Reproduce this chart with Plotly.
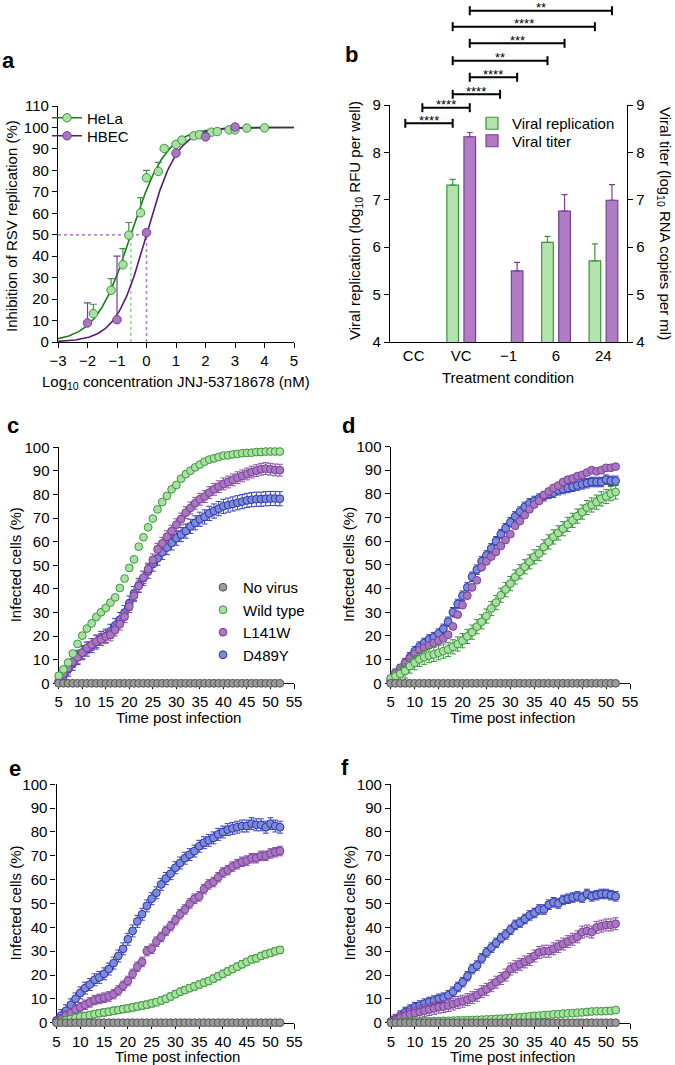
import numpy as np
import plotly.graph_objects as go

W, H = 675, 1065
FONT = "Liberation Sans, Arial, Helvetica, sans-serif"


def px(x):
    return x / W


def py(y):
    return 1 - y / H


# ---------------- Panel a: dose response ----------------
HELA_LOGC = [-1.8, -1.2, -0.8, -0.6, -0.2, 0.0, 0.4, 0.6, 1.0, 1.2, 1.6, 1.8, 2.2, 2.4, 2.8, 3.0, 3.4, 4.0]
HELA_INH = [13.2, 24.1, 36.0, 49.8, 60.2, 76.5, 79.5, 90.2, 92.1, 94.1, 96.1, 96.6, 97.8, 98.1, 98.9, 98.9, 99.7, 99.8]
HELA_ERR = [4.4, 5.4, 7.5, 5.9, 7.1, 3.5, 4.2, 1.4, 1.2, 0.5, 0.5, 0.5, 0.3, 0.3, 0.2, 0.2, 0.2, 0.1]
HBEC_LOGC = [-2.0, -1.0, 0.0, 1.0, 2.0, 3.0]
HBEC_INH = [8.9, 10.4, 51.0, 88.0, 95.6, 100.2]
HBEC_ERR = [9.3, 29.6, 0.0, 0.8, 1.5, 0.0]
HELA_IC50, HELA_HILL = -0.53, 0.73
HBEC_IC50, HBEC_HILL = 0.0, 0.84

# ---------------- Panel b: bars ----------------
B_CATS = ["CC", "VC", "\u22121", "6", "24"]
REPL = [None, 7.31, None, 6.10, 5.71]
REPL_ERR = [0, 0.12, 0, 0.13, 0.36]
TITER = [None, 8.33, 5.50, 6.76, 6.99]
TITER_ERR = [0, 0.09, 0.18, 0.35, 0.33]
# (series, from category, to category, label) top to bottom
SIG = [("titer", 1, 4, "**"), ("repl", 1, 4, "****"), ("titer", 1, 3, "***"),
       ("repl", 1, 3, "**"), ("titer", 1, 2, "****"), ("repl", 1, 2, "****"),
       ("titer", 0, 1, "****"), ("repl", 0, 1, "****")]

# ---------------- Panels c-f: kinetics ----------------
TIME = [5, 6, 7, 8, 9, 10, 11, 12, 13, 14, 15, 16, 17, 18, 19, 20, 21, 22, 23, 24, 25, 26, 27, 28,
        29, 30, 31, 32, 33, 34, 35, 36, 37, 38, 39, 40, 41, 42, 43, 44, 45, 46, 47, 48, 49, 50, 51, 52]
NO_VIRUS = [0, 0, 0, 0, 0, 0, 0, 0, 0, 0, 0, 0, 0, 0, 0, 0, 0, 0, 0, 0, 0, 0, 0, 0,
            0, 0, 0, 0, 0, 0, 0, 0, 0, 0, 0, 0, 0, 0, 0, 0, 0, 0, 0, 0, 0, 0, 0, 0]

C_WT = [3.2, 5.9, 8.8, 12.6, 16.7, 20.2, 23.2, 25.4, 28.1, 30.1, 31.9, 34.2, 36.4, 40.4, 44.4, 48.9,
        52.5, 57.9, 61.9, 66.1, 69.8, 73.7, 76.8, 79.4, 82.2, 84.0, 86.7, 88.6, 90.1, 91.5, 92.7, 93.9,
        94.8, 95.3, 95.9, 96.5, 96.6, 97.0, 97.2, 97.5, 97.6, 97.7, 98.0, 98.0, 98.2, 98.2, 98.2, 98.2]
C_L141W = [1.0, 4.0, 6.4, 9.2, 11.0, 13.0, 15.0, 16.4, 17.7, 18.6, 19.8, 20.5, 22.6, 25.1, 28.2, 32.5,
           37.1, 41.2, 44.8, 48.4, 52.3, 56.8, 59.3, 62.1, 64.5, 67.2, 69.6, 72.3, 74.3, 76.3, 78.0, 79.1,
           80.8, 82.2, 83.3, 84.5, 85.3, 86.2, 87.1, 87.9, 88.7, 89.5, 90.1, 90.7, 91.0, 90.7, 90.4, 90.3]
C_D489Y = [0.5, 3.0, 6.0, 8.5, 11.0, 13.0, 14.5, 16.0, 17.5, 19.0, 20.0, 22.0, 24.5, 27.0, 30.0, 34.0,
           38.0, 41.5, 44.5, 47.5, 50.5, 53.0, 55.5, 57.5, 59.5, 61.5, 63.0, 64.5, 66.5, 68.0, 69.5, 70.5,
           72.0, 73.0, 74.0, 75.0, 75.5, 76.0, 76.5, 77.0, 77.5, 77.8, 78.0, 78.0, 78.2, 78.3, 78.3, 78.2]

D_WT = [2.0, 3.0, 4.0, 5.2, 7.3, 8.7, 10.1, 11.0, 11.7, 12.2, 12.9, 13.6, 14.3, 15.4, 16.6, 18.0,
        19.8, 21.6, 23.9, 26.0, 28.4, 31.6, 34.1, 37.2, 39.6, 42.1, 44.9, 47.1, 49.2, 51.3, 53.4, 54.8,
        57.6, 59.7, 61.8, 63.5, 65.3, 67.1, 68.8, 70.6, 72.3, 74.2, 75.3, 76.5, 77.9, 78.9, 80.1, 80.8]
D_L141W = [2.0, 4.5, 6.5, 8.5, 10.5, 12.5, 14.0, 15.0, 16.0, 17.0, 18.0, 19.0, 20.5, 24.0, 29.0, 33.0,
           37.0, 40.5, 43.5, 49.0, 51.5, 53.5, 55.5, 58.0, 60.5, 63.0, 66.5, 68.5, 71.0, 73.5, 75.5, 77.0,
           79.5, 81.0, 82.5, 83.5, 85.0, 86.0, 86.5, 87.5, 88.0, 89.0, 90.0, 89.5, 90.0, 91.0, 91.0, 91.5]
D_D489Y = [1.0, 3.5, 6.0, 8.5, 11.0, 13.5, 15.5, 17.0, 18.5, 19.5, 21.0, 23.0, 26.0, 30.0, 33.5, 37.0,
           40.5, 45.0, 48.0, 51.5, 54.0, 57.0, 60.0, 63.0, 65.5, 68.0, 70.5, 72.5, 74.5, 76.0, 77.0, 78.0,
           79.0, 80.0, 80.5, 81.5, 82.0, 82.5, 83.0, 83.5, 84.0, 84.5, 85.0, 85.0, 85.0, 86.0, 85.5, 85.5]

E_WT = [0.0, 0.5, 1.0, 1.5, 2.0, 2.5, 2.8, 3.2, 3.6, 4.0, 4.3, 4.6, 5.0, 5.3, 5.7, 6.0,
        6.4, 6.8, 7.2, 7.6, 8.1, 8.6, 9.3, 10.0, 11.0, 12.0, 13.0, 13.7, 14.5, 15.2, 16.0, 16.8,
        17.5, 18.5, 19.5, 20.5, 21.5, 22.5, 23.5, 24.5, 25.5, 26.5, 27.0, 28.0, 28.7, 29.3, 30.0, 30.5]
E_L141W = [0.5, 1.5, 3.0, 4.0, 5.5, 6.5, 7.5, 8.5, 9.5, 10.0, 10.5, 11.0, 12.0, 13.5, 15.5, 17.5,
           20.5, 23.5, 25.5, 30.0, 31.0, 34.0, 36.0, 38.5, 40.5, 43.0, 45.5, 47.5, 50.0, 52.0, 53.0, 56.0,
           58.0, 59.0, 61.0, 63.0, 64.0, 65.5, 66.5, 67.5, 68.0, 69.0, 69.0, 70.0, 70.0, 71.0, 71.5, 72.0]
E_D489Y = [1.0, 3.0, 5.0, 7.5, 10.0, 12.5, 14.5, 16.0, 18.0, 19.0, 20.5, 22.5, 25.0, 28.0, 31.0, 35.0,
           38.5, 42.5, 45.5, 49.0, 52.0, 54.5, 58.0, 60.5, 62.5, 65.0, 67.0, 69.0, 70.5, 72.0, 74.0, 75.5,
           76.5, 77.5, 79.0, 80.0, 81.0, 81.5, 82.0, 82.5, 82.5, 83.5, 83.0, 83.0, 82.0, 83.5, 82.5, 82.0]

F_WT = [0.0, 0.1, 0.2, 0.3, 0.4, 0.5, 0.5, 0.6, 0.6, 0.7, 0.7, 0.8, 0.8, 0.9, 1.0, 1.0,
        1.1, 1.1, 1.2, 1.3, 1.4, 1.5, 1.6, 1.7, 1.8, 2.0, 2.1, 2.3, 2.5, 2.7, 2.9, 3.0,
        3.2, 3.3, 3.5, 3.6, 3.8, 3.9, 4.0, 4.2, 4.3, 4.5, 4.7, 4.8, 4.8, 4.9, 5.0, 5.3]
F_L141W = [0.3, 1.0, 2.0, 2.8, 3.5, 4.0, 4.5, 5.0, 5.5, 6.0, 6.5, 6.8, 7.2, 7.8, 8.5, 9.0,
           9.7, 10.5, 11.5, 13.0, 14.0, 15.5, 17.0, 18.5, 20.0, 22.5, 23.5, 24.5, 25.5, 26.5, 28.0, 29.5,
           30.0, 30.0, 31.0, 32.0, 33.0, 34.0, 35.0, 36.0, 38.0, 38.5, 38.0, 40.0, 40.5, 41.0, 41.0, 41.5]
F_D489Y = [0.5, 1.5, 3.0, 4.5, 5.5, 6.5, 7.2, 8.0, 8.7, 9.3, 10.0, 10.5, 11.5, 13.0, 15.0, 17.0,
           19.5, 22.5, 24.0, 27.0, 29.5, 31.5, 33.5, 35.5, 37.0, 39.0, 41.0, 42.0, 43.5, 45.0, 46.0, 47.5,
           47.5, 49.5, 50.5, 50.0, 51.5, 52.0, 52.5, 53.0, 52.5, 54.0, 53.0, 53.5, 54.0, 54.0, 53.5, 53.0]

# constant error bar sizes (wt, L141W, D489Y)
ERR_C = [0.5, 2.5, 3.0]
ERR_D = [3.0, 1.0, 2.0]
ERR_E = [1.5, 2.0, 2.5]
ERR_F = [0.5, 2.5, 2.0]

# ---------------- colours ----------------
GREEN_FILL, GREEN_LINE, GREEN_CURVE, GREEN_DOT = "#a8e0a2", "#3c963c", "#1f7a1f", "#90d890"
PURPLE_FILL, PURPLE_LINE, PURPLE_CURVE, PURPLE_DOT = "#a877c2", "#7a3f95", "#5a1a70", "#b77fd0"
BLUE_FILL, BLUE_LINE = "#7c8ad8", "#2b33a8"
GRAY_FILL, GRAY_LINE = "#9a9a9a", "#555555"
BAR_GREEN, BAR_PURPLE = "#b2e3ac", "#b07cc4"

fig = go.Figure()

# ---------- panel a traces ----------
xs = np.linspace(-3, 5, 241)


def hill(x, ic50, h):
    return 100.0 / (1.0 + 10 ** ((ic50 - x) * h))


for ic50, col in [(HELA_IC50, GREEN_DOT), (HBEC_IC50, PURPLE_DOT)]:
    fig.add_trace(go.Scatter(x=[ic50, ic50], y=[0, 50], mode="lines", showlegend=False,
                             line=dict(color=col, width=1.6, dash="dot"), xaxis="x", yaxis="y", hoverinfo="skip"))
    fig.add_trace(go.Scatter(x=[-3, ic50], y=[50, 50], mode="lines", showlegend=False,
                             line=dict(color=col, width=1.6, dash="dot"), xaxis="x", yaxis="y", hoverinfo="skip"))

fig.add_trace(go.Scatter(x=xs, y=hill(xs, HELA_IC50, HELA_HILL), mode="lines", showlegend=False,
                         line=dict(color=GREEN_CURVE, width=1.6), xaxis="x", yaxis="y"))
fig.add_trace(go.Scatter(x=xs, y=hill(xs, HBEC_IC50, HBEC_HILL), mode="lines", showlegend=False,
                         line=dict(color=PURPLE_CURVE, width=1.6), xaxis="x", yaxis="y"))
fig.add_trace(go.Scatter(x=HELA_LOGC, y=HELA_INH, mode="markers", showlegend=False,
                         marker=dict(size=8.5, color=GREEN_FILL, line=dict(color=GREEN_LINE, width=1)),
                         error_y=dict(type="data", array=HELA_ERR, symmetric=False,
                                      arrayminus=[0] * len(HELA_ERR), color=GREEN_LINE, thickness=1.2, width=3.5),
                         xaxis="x", yaxis="y"))
fig.add_trace(go.Scatter(x=HBEC_LOGC, y=HBEC_INH, mode="markers", showlegend=False,
                         marker=dict(size=8.5, color=PURPLE_FILL, line=dict(color=PURPLE_LINE, width=1)),
                         error_y=dict(type="data", array=HBEC_ERR, symmetric=False,
                                      arrayminus=[0] * len(HBEC_ERR), color=PURPLE_LINE, thickness=1.2, width=3.5),
                         xaxis="x", yaxis="y"))
# legend entries for panel a (one legend box per entry for exact placement)
fig.add_trace(go.Scatter(x=[None], y=[None], mode="lines+markers", name="HeLa", legend="legend",
                         marker=dict(size=8.5, color=GREEN_FILL, line=dict(color=GREEN_LINE, width=1)),
                         line=dict(color=GREEN_CURVE, width=1.6), xaxis="x", yaxis="y"))
fig.add_trace(go.Scatter(x=[None], y=[None], mode="lines+markers", name="HBEC", legend="legend4",
                         marker=dict(size=8.5, color=PURPLE_FILL, line=dict(color=PURPLE_LINE, width=1)),
                         line=dict(color=PURPLE_CURVE, width=1.6), xaxis="x", yaxis="y"))

# ---------- panel b traces ----------
B_X = list(range(len(B_CATS)))
BAR_W = 0.245
OFF_REPL, OFF_TITER = -0.30, 0.06
fig.add_trace(go.Bar(x=B_X, y=REPL, width=BAR_W, offset=OFF_REPL, name="Viral replication", legend="legend2",
                     marker=dict(color=BAR_GREEN, line=dict(color=GREEN_LINE, width=1.2)),
                     error_y=dict(type="data", array=REPL_ERR, symmetric=False, arrayminus=[0] * 5,
                                  color=GREEN_LINE, thickness=1.2, width=3),
                     xaxis="x2", yaxis="y2"))
fig.add_trace(go.Bar(x=B_X, y=TITER, width=BAR_W, offset=OFF_TITER, name="Viral titer", legend="legend5",
                     marker=dict(color=BAR_PURPLE, line=dict(color=PURPLE_LINE, width=1.2)),
                     error_y=dict(type="data", array=TITER_ERR, symmetric=False, arrayminus=[0] * 5,
                                  color=PURPLE_LINE, thickness=1.2, width=3),
                     xaxis="x2", yaxis="y3"))

# ---------- panels c-f ----------
PANELS = [
    ("x4", "y4", C_WT, C_L141W, C_D489Y, ERR_C, True),
    ("x5", "y5", D_WT, D_L141W, D_D489Y, ERR_D, False),
    ("x6", "y6", E_WT, E_L141W, E_D489Y, ERR_E, False),
    ("x7", "y7", F_WT, F_L141W, F_D489Y, ERR_F, False),
]
for xa, ya, wt, l141, d489, errs, show in PANELS:
    specs = [
        ("D489Y", d489, BLUE_FILL, BLUE_LINE, errs[2], "#3a40c0"),
        ("L141W", l141, PURPLE_FILL, PURPLE_LINE, errs[1], "#8a4fa8"),
        ("Wild type", wt, GREEN_FILL, GREEN_LINE, errs[0], GREEN_LINE),
        ("No virus", NO_VIRUS, GRAY_FILL, GRAY_LINE, 0, GRAY_LINE),
    ]
    for name, vals, fill, edge, err, ecol in specs:
        fig.add_trace(go.Scatter(
            x=TIME, y=vals, mode="markers", name=name, showlegend=show, legend="legend3",
            cliponaxis=False,
            marker=dict(size=7.8, color=fill, line=dict(color=edge, width=1)),
            error_y=dict(type="constant", value=err, color=ecol, thickness=1, width=3, visible=err > 0),
            xaxis=xa, yaxis=ya))

# ---------------- layout ----------------
axis_common = dict(showline=True, linecolor="black", linewidth=1.3, ticks="outside", ticklen=5,
                   tickwidth=1.3, tickcolor="black", showgrid=False, zeroline=False, automargin=False,
                   tickfont=dict(size=15, color="black", family=FONT))


def dom(a, b, size):
    return [a / size, b / size]


def ydom(top, bottom):
    return [1 - bottom / H, 1 - top / H]


layout = dict(
    template="none",
    width=W, height=H, margin=dict(l=0, r=0, t=0, b=0, pad=0), autosize=False,
    paper_bgcolor="white", plot_bgcolor="white",
    font=dict(family=FONT, size=15, color="black"),
    barmode="overlay",
    xaxis=dict(axis_common, domain=dom(58, 294, W), range=[-3, 5], dtick=1, anchor="y"),
    yaxis=dict(axis_common, domain=ydom(106, 342), range=[0, 110], dtick=10, anchor="x"),
    xaxis2=dict(axis_common, domain=dom(390, 627, W), range=[-0.5, 4.5], tickvals=B_X, ticktext=B_CATS,
                anchor="y2", ticklen=0),
    yaxis2=dict(axis_common, domain=ydom(105, 342), range=[4, 9], dtick=1, anchor="x2"),
    yaxis3=dict(axis_common, range=[4, 9], dtick=1, anchor="x2", overlaying="y2", side="right"),
)
cf_pos = {
    "4": (58.7, 294, 447.3, 683.3),
    "5": (390.7, 630, 446.5, 683.3),
    "6": (56.5, 294.3, 784.3, 1022.7),
    "7": (391, 630, 784.3, 1022.7),
}
for k, (x0, x1, y0, y1) in cf_pos.items():
    layout["xaxis" + k] = dict(axis_common, domain=dom(x0, x1, W), range=[5, 55], dtick=5, tick0=5,
                               anchor="y" + k, layer="below traces")
    layout["yaxis" + k] = dict(axis_common, domain=ydom(y0, y1), range=[0, 100], dtick=10,
                               anchor="x" + k, layer="below traces")

leg = dict(xanchor="left", yanchor="middle", bgcolor="rgba(0,0,0,0)", font=dict(size=15, family=FONT),
           tracegroupgap=0, itemwidth=30, borderwidth=0)
layout["legend"] = dict(leg, x=px(47), y=py(118))
layout["legend4"] = dict(leg, x=px(47), y=py(136))
layout["legend2"] = dict(leg, x=px(472), y=py(123.5))
layout["legend5"] = dict(leg, x=px(472), y=py(141))
layout["legend3"] = dict(leg, x=px(203), y=py(621), traceorder="reversed")

fig.update_layout(**layout)

ann = []


def txt(x, y, text, size=15, angle=0, bold=False, xanchor="center", yanchor="middle"):
    ann.append(dict(x=px(x), y=py(y), xref="paper", yref="paper", text=("<b>%s</b>" % text) if bold else text,
                    showarrow=False, textangle=angle, xanchor=xanchor, yanchor=yanchor,
                    font=dict(size=size, family=FONT, color="black")))


# panel letters
for letter, (lx, ly) in {"a": (8, 60), "b": (352, 55), "c": (13, 425), "d": (348, 425),
                         "e": (15, 768), "f": (345, 767)}.items():
    txt(lx, ly, letter, size=22, bold=True)

# axis titles
txt(12, 226, "Inhibition of RSV replication (%)", angle=-90)
txt(176, 382, "Log<sub>10</sub> concentration JNJ-53718678 (nM)")
txt(355, 221, "Viral replication (log<sub>10</sub> RFU per well)", angle=-90)
txt(664, 223, "Viral titer (log<sub>10</sub> RNA copies per ml)", angle=90)
txt(508, 378, "Treatment condition")
for (x0, x1, y0, y1), yx in zip(cf_pos.values(), [15, 349, 15, 349]):
    txt(yx, (y0 + y1) / 2, "Infected cells (%)", angle=-90)
    txt((x0 + x1) / 2 + 2, y1 + 34, "Time post infection")

# significance brackets
ROW_Y = [10.7, 26.7, 43.3, 60.7, 77.3, 94.3, 107.7, 123.3]
CENTER = {"repl": OFF_REPL + BAR_W / 2, "titer": OFF_TITER + BAR_W / 2}
shapes = []
for (series, c0, c1, label), ry in zip(SIG, ROW_Y):
    xa0, xa1 = c0 + CENTER[series], c1 + CENTER[series]
    shapes.append(dict(type="line", xref="x2", yref="paper", x0=xa0, x1=xa1, y0=py(ry), y1=py(ry),
                       line=dict(color="black", width=2)))
    for xe in (xa0, xa1):
        shapes.append(dict(type="line", xref="x2", yref="paper", x0=xe, x1=xe, y0=py(ry - 4.5), y1=py(ry + 4.5),
                           line=dict(color="black", width=2)))
    ann.append(dict(x=(xa0 + xa1) / 2, y=py(ry - 3), xref="x2", yref="paper", text=label, showarrow=False,
                    xanchor="center", yanchor="middle", borderpad=0,
                    font=dict(size=13, family=FONT, color="black")))

fig.update_layout(annotations=ann, shapes=shapes)
fig.write_html("out.html", config={"displayModeBar": False},
               post_script="document.body.style.margin='0px';document.body.style.overflow='hidden';")
